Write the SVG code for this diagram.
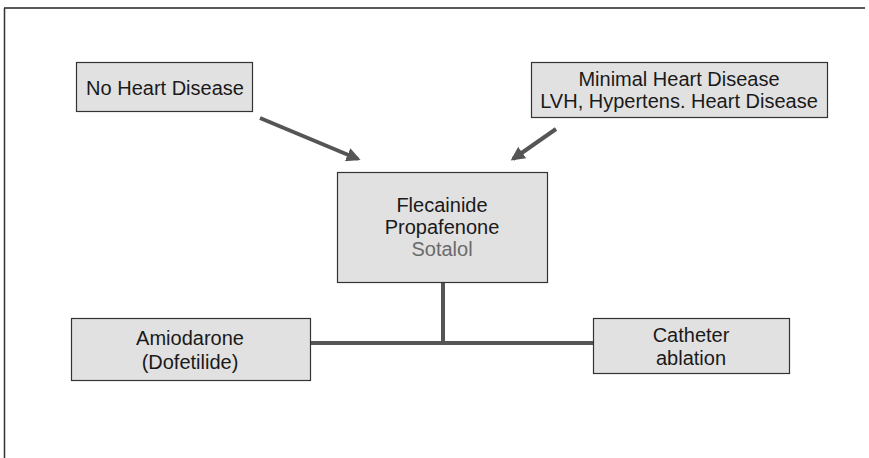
<svg xmlns="http://www.w3.org/2000/svg" width="869" height="458" viewBox="0 0 869 458">
<defs>
<style>
.box{fill:#e1e1e1;stroke:#333;stroke-width:1.2}
.t{font-family:"Liberation Sans",Arial,sans-serif;font-size:20px;fill:#1a1a1a;text-anchor:middle}
.g{fill:#6a6a6a}
.ln{stroke:#555;stroke-width:4;fill:none}
.ar{stroke:#555;stroke-width:4;fill:none;marker-end:url(#ah)}
</style>
<marker id="ah" viewBox="0 0 10 10" refX="8" refY="5" markerWidth="3.5" markerHeight="3.5" orient="auto" markerUnits="strokeWidth">
<path d="M0,0 L10,5 L0,10 Z" fill="#555"/>
</marker>
</defs>
<rect width="869" height="458" fill="#fff"/>
<g id="frame">
<line x1="4" y1="8" x2="865" y2="8" stroke="#222" stroke-width="1.5"/>
<line x1="4.5" y1="8" x2="4.5" y2="458" stroke="#333" stroke-width="1.5"/>
</g>
<g id="connectors">
<line class="ar" x1="260" y1="118" x2="358" y2="159"/>
<line class="ar" x1="556" y1="129" x2="513" y2="159"/>
<polyline class="ln" points="443,282 443,343"/>
<line class="ln" x1="310" y1="343" x2="593" y2="343"/>
</g>
<g id="no-heart-disease">
<rect class="box" x="76.5" y="62.5" width="176" height="49"/>
<text class="t" x="165" y="95">No Heart Disease</text>
</g>
<g id="minimal-heart-disease">
<rect class="box" x="531.5" y="62.5" width="296" height="55"/>
<text class="t" x="679" y="86">Minimal Heart Disease</text>
<text class="t" x="679" y="108">LVH, Hypertens. Heart Disease</text>
</g>
<g id="flecainide">
<rect class="box" x="337.5" y="172.5" width="210" height="110"/>
<text class="t" x="442" y="212">Flecainide</text>
<text class="t" x="442" y="234">Propafenone</text>
<text class="t g" x="442" y="256">Sotalol</text>
</g>
<g id="amiodarone">
<rect class="box" x="71.5" y="318.5" width="239" height="62"/>
<text class="t" x="190" y="345">Amiodarone</text>
<text class="t" x="190" y="369">(Dofetilide)</text>
</g>
<g id="catheter-ablation">
<rect class="box" x="593.5" y="318.5" width="196" height="55"/>
<text class="t" x="691" y="342">Catheter</text>
<text class="t" x="691" y="365">ablation</text>
</g>
</svg>
